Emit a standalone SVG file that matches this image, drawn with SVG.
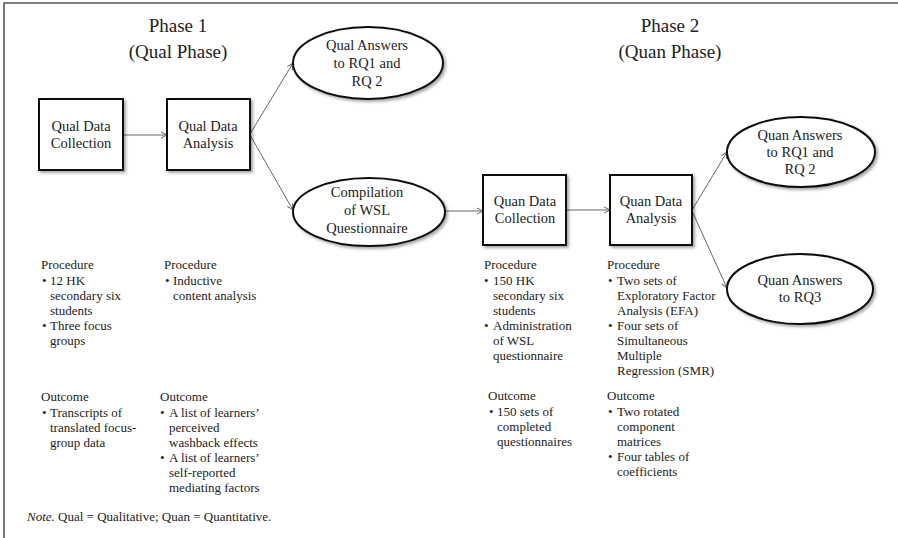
<svg xmlns="http://www.w3.org/2000/svg" width="898" height="538" viewBox="0 0 898 538">
<defs>
<marker id="arr" markerWidth="8" markerHeight="8" refX="7" refY="4" orient="auto" markerUnits="userSpaceOnUse">
<path d="M1,1 L7,4 L1,7" fill="none" stroke="#555" stroke-width="0.9"/>
</marker>
<filter id="sh" x="-10%" y="-10%" width="130%" height="130%">
<feDropShadow dx="2" dy="2" stdDeviation="1.5" flood-color="#000" flood-opacity="0.35"/>
</filter>
</defs>
<style>
text{font-family:"Liberation Serif","Times New Roman",serif;fill:#222}
.title{font-size:19px;text-anchor:middle}
.node{font-size:14.5px;text-anchor:middle}
.shape{fill:#fff;stroke:#111;stroke-width:2;filter:url(#sh)}
.lbl{font-size:13px}
.conn{stroke:#555;stroke-width:0.9;fill:none;marker-end:url(#arr)}
</style>
<rect x="0" y="0" width="898" height="538" fill="#fff"/>
<path d="M4,538 L4,3 L898,3" fill="none" stroke="#555" stroke-width="1.6"/>

<g id="titles">
<text class="title" x="178" y="32">Phase 1</text>
<text class="title" x="178" y="58">(Qual Phase)</text>
<text class="title" x="670" y="32">Phase 2</text>
<text class="title" x="670" y="58">(Quan Phase)</text>
</g>

<g id="connectors">
<line class="conn" x1="123" y1="135" x2="167" y2="135"/>
<line class="conn" x1="250" y1="134" x2="293" y2="63"/>
<line class="conn" x1="250" y1="135" x2="293" y2="210"/>
<line class="conn" x1="445" y1="211" x2="483" y2="211"/>
<line class="conn" x1="566" y1="210" x2="610" y2="210"/>
<line class="conn" x1="692" y1="210" x2="727" y2="152"/>
<line class="conn" x1="692" y1="211" x2="727" y2="288"/>
</g>

<g id="qual-data-collection">
<rect class="shape" x="39" y="99" width="84" height="71"/>
<text class="node" x="81" y="131">Qual Data</text>
<text class="node" x="81" y="148">Collection</text>
</g>
<g id="qual-data-analysis">
<rect class="shape" x="167" y="99" width="83" height="71"/>
<text class="node" x="208" y="131">Qual Data</text>
<text class="node" x="208" y="148">Analysis</text>
</g>
<g id="qual-answers">
<ellipse class="shape" cx="368" cy="63" rx="75" ry="36"/>
<text class="node" x="367" y="50">Qual Answers</text>
<text class="node" x="367" y="68">to RQ1 and</text>
<text class="node" x="367" y="86">RQ 2</text>
</g>
<g id="compilation">
<ellipse class="shape" cx="369" cy="212" rx="76" ry="34"/>
<text class="node" x="367" y="197">Compilation</text>
<text class="node" x="367" y="215">of WSL</text>
<text class="node" x="367" y="233">Questionnaire</text>
</g>
<g id="quan-data-collection">
<rect class="shape" x="483" y="175" width="83" height="70"/>
<text class="node" x="525" y="206">Quan Data</text>
<text class="node" x="525" y="223">Collection</text>
</g>
<g id="quan-data-analysis">
<rect class="shape" x="610" y="175" width="82" height="70"/>
<text class="node" x="651" y="206">Quan Data</text>
<text class="node" x="651" y="223">Analysis</text>
</g>
<g id="quan-answers-rq12">
<ellipse class="shape" cx="801" cy="152" rx="74" ry="35"/>
<text class="node" x="800" y="140">Quan Answers</text>
<text class="node" x="800" y="157">to RQ1 and</text>
<text class="node" x="800" y="174">RQ 2</text>
</g>
<g id="quan-answers-rq3">
<ellipse class="shape" cx="800" cy="289" rx="73" ry="35"/>
<text class="node" x="800" y="285">Quan Answers</text>
<text class="node" x="800" y="302">to RQ3</text>
</g>

<g id="col1" class="lbl">
<text class="lbl" x="41" y="269">Procedure</text>
<text class="lbl" x="42" y="285">•</text><text class="lbl" x="50" y="285">12 HK</text>
<text class="lbl" x="50" y="300">secondary six</text>
<text class="lbl" x="50" y="315">students</text>
<text class="lbl" x="42" y="330">•</text><text class="lbl" x="50" y="330">Three focus</text>
<text class="lbl" x="50" y="345">groups</text>
<text class="lbl" x="41" y="401">Outcome</text>
<text class="lbl" x="42" y="417">•</text><text class="lbl" x="50" y="417">Transcripts of</text>
<text class="lbl" x="50" y="432">translated focus-</text>
<text class="lbl" x="50" y="447">group data</text>
</g>
<g id="col2">
<text class="lbl" x="164" y="269">Procedure</text>
<text class="lbl" x="165" y="285">•</text><text class="lbl" x="173" y="285">Inductive</text>
<text class="lbl" x="173" y="300">content analysis</text>
<text class="lbl" x="160" y="401">Outcome</text>
<text class="lbl" x="160" y="417">•</text><text class="lbl" x="169" y="417">A list of learners’</text>
<text class="lbl" x="169" y="432">perceived</text>
<text class="lbl" x="169" y="447">washback effects</text>
<text class="lbl" x="160" y="462">•</text><text class="lbl" x="169" y="462">A list of learners’</text>
<text class="lbl" x="169" y="477">self-reported</text>
<text class="lbl" x="169" y="492">mediating factors</text>
</g>
<g id="col3">
<text class="lbl" x="484" y="269">Procedure</text>
<text class="lbl" x="484" y="285">•</text><text class="lbl" x="493" y="285">150 HK</text>
<text class="lbl" x="493" y="300">secondary six</text>
<text class="lbl" x="493" y="315">students</text>
<text class="lbl" x="484" y="330">•</text><text class="lbl" x="493" y="330">Administration</text>
<text class="lbl" x="493" y="345">of WSL</text>
<text class="lbl" x="493" y="360">questionnaire</text>
<text class="lbl" x="488" y="400">Outcome</text>
<text class="lbl" x="489" y="416">•</text><text class="lbl" x="497" y="416">150 sets of</text>
<text class="lbl" x="497" y="431">completed</text>
<text class="lbl" x="497" y="446">questionnaires</text>
</g>
<g id="col4">
<text class="lbl" x="607" y="269">Procedure</text>
<text class="lbl" x="608" y="285">•</text><text class="lbl" x="617" y="285">Two sets of</text>
<text class="lbl" x="617" y="300">Exploratory Factor</text>
<text class="lbl" x="617" y="315">Analysis (EFA)</text>
<text class="lbl" x="608" y="330">•</text><text class="lbl" x="617" y="330">Four sets of</text>
<text class="lbl" x="617" y="345">Simultaneous</text>
<text class="lbl" x="617" y="360">Multiple</text>
<text class="lbl" x="617" y="375">Regression (SMR)</text>
<text class="lbl" x="607" y="400">Outcome</text>
<text class="lbl" x="608" y="416">•</text><text class="lbl" x="617" y="416">Two rotated</text>
<text class="lbl" x="617" y="431">component</text>
<text class="lbl" x="617" y="446">matrices</text>
<text class="lbl" x="608" y="461">•</text><text class="lbl" x="617" y="461">Four tables of</text>
<text class="lbl" x="617" y="476">coefficients</text>
</g>
<g id="note">
<text class="lbl" x="27" y="521"><tspan font-style="italic">Note.</tspan> Qual = Qualitative; Quan = Quantitative.</text>
</g>
</svg>
